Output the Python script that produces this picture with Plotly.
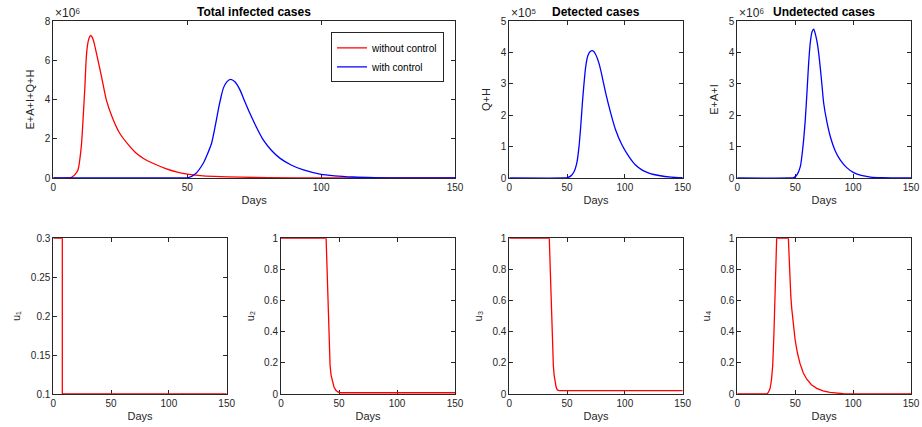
import plotly.graph_objects as go

# ---------------- data ----------------
# Total infected cases (E+A+I+Q+H), units of 1e6
total_without_days = [0, 5, 6.5, 7.5, 8.5, 9.2, 10.45, 11.1, 11.8, 12.3, 12.8, 13.4, 13.95, 14.6, 15.3, 16.1, 18,
                      19.8, 22, 24.8, 28, 31, 34, 37.2, 42, 46, 50, 55, 60, 70, 80, 100, 150]
total_without_vals = [0, 0, 0.02, 0.1, 0.25, 0.41, 1.6, 2.96, 4.66, 6.1, 6.8, 7.15, 7.26, 7.15, 6.85, 6.36, 5.17,
                      3.98, 3.1, 2.28, 1.7, 1.26, 0.97, 0.75, 0.48, 0.31, 0.2, 0.12, 0.08, 0.04, 0.02, 0.005, 0]
total_with_days = [0, 45, 50.4, 53, 56, 57.5, 59.1, 60.4, 61.6, 62.5, 63.5, 64.8, 66.2, 67.8, 69.7, 71.5, 73.4,
                   76, 78.4, 81.5, 84.7, 89, 93.4, 99.6, 105, 112, 120, 130, 150]
total_with_vals = [0, 0, 0.02, 0.2, 0.75, 1.2, 1.77, 2.6, 3.47, 4.05, 4.58, 4.9, 5.03, 4.9, 4.49, 3.9, 3.3,
                   2.55, 1.94, 1.4, 1.0, 0.65, 0.41, 0.2, 0.11, 0.05, 0.02, 0.005, 0]

# Detected cases (Q+H), units of 1e5
detected_days = [0, 48, 50.2, 53, 56, 58.5, 60.3, 61.8, 63.2, 64.6, 66.1, 68, 70, 72.4, 74.5, 77.6, 80.5, 83.4,
                 87.5, 92, 97.5, 103.5, 109, 115, 122, 129.5, 140, 150]
detected_vals = [0, 0, 0.01, 0.06, 0.2, 0.5, 1.0, 1.65, 2.38, 3.0, 3.55, 3.9, 4.03, 4.05, 3.95, 3.65, 3.2, 2.7,
                 2.1, 1.53, 1.05, 0.68, 0.42, 0.25, 0.14, 0.08, 0.03, 0.01]

# Undetected cases (E+A+I), units of 1e6
undetected_days = [0, 46, 48.7, 51.5, 54.4, 56.7, 58.7, 60.2, 61.6, 63, 64.5, 66, 67.3, 68.8, 70.3, 72.5, 74.6,
                   77.3, 80.3, 84.5, 89, 94.5, 100.5, 107, 115, 125, 150]
undetected_vals = [0, 0, 0.01, 0.1, 0.36, 1.0, 1.85, 2.75, 3.65, 4.3, 4.65, 4.74, 4.6, 4.35, 3.97, 3.2, 2.38,
                   1.8, 1.32, 0.87, 0.57, 0.33, 0.17, 0.08, 0.03, 0.01, 0]

# Controls
u1_days = [0, 7.8, 7.8, 150]
u1_vals = [0.3, 0.3, 0.1, 0.1]
u2_days = [0, 38.9, 39.4, 40.0, 40.4, 40.9, 41.6, 42.3, 43.2, 44.3, 45.7, 47.3, 49, 51, 60, 150]
u2_vals = [1, 1, 0.88, 0.72, 0.56, 0.40, 0.28, 0.185, 0.12, 0.077, 0.045, 0.024, 0.013, 0.008, 0.008, 0.008]
u3_days = [0, 34.6, 35.1, 35.8, 36.3, 36.9, 37.5, 38.1, 38.8, 39.5, 40.5, 41.5, 43, 150]
u3_vals = [1, 1, 0.88, 0.72, 0.56, 0.40, 0.28, 0.185, 0.12, 0.077, 0.045, 0.026, 0.022, 0.022]
u4_days = [0, 25.4, 26.8, 28.3, 29.5, 30.6, 31.6, 32.6, 33.3, 34.0, 44.1, 44.6, 45.1, 45.5, 46.2, 47, 48.4,
           49.9, 52, 54.2, 57, 60, 64, 68.6, 74, 80, 91.5, 100, 150]
u4_vals = [0, 0, 0.01, 0.035, 0.09, 0.185, 0.38, 0.61, 0.8, 1, 1, 0.9, 0.8, 0.72, 0.63, 0.55, 0.44,
           0.35, 0.26, 0.195, 0.135, 0.095, 0.06, 0.036, 0.02, 0.01, 0.002, 0, 0]

x_ticks = [0, 50, 100, 150]

# ---------------- layout helpers ----------------
W, H = 922, 427
def fx(px):
    return px / W
def fy(py):
    return 1 - py / H

cols = [(53.3, 226.7), (281, 455), (509.3, 682.7), (737.3, 911)]
top_row = (21, 178)
bot_row = (238.3, 394)

AX = "#262626"
FONT = "Liberation Sans, Arial, Helvetica, DejaVu Sans, sans-serif"
RED = "#ff0000"
BLUE = "#0000ff"

fig = go.Figure()

u_ticks = [0, 0.2, 0.4, 0.6, 0.8, 1]
u_text = ["0", "0.2", "0.4", "0.6", "0.8", "1"]
panels = [
    # (x px range, y px range, y range, y ticks, tick text, y title)
    ((cols[0][0], cols[1][1]), top_row, [0, 8], [0, 2, 4, 6, 8], None, "E+A+I+Q+H"),
    ((cols[2][0], cols[2][1]), top_row, [0, 5], [0, 1, 2, 3, 4, 5], None, "Q+H"),
    ((cols[3][0], cols[3][1]), top_row, [0, 5], [0, 1, 2, 3, 4, 5], None, "E+A+I"),
    ((cols[0][0], cols[0][1]), bot_row, [0.1, 0.3], [0.1, 0.15, 0.2, 0.25, 0.3],
     ["0.1", "0.15", "0.2", "0.25", "0.3"], "u₁"),
    ((cols[1][0], cols[1][1]), bot_row, [0, 1], u_ticks, u_text, "u₂"),
    ((cols[2][0], cols[2][1]), bot_row, [0, 1], u_ticks, u_text, "u₃"),
    ((cols[3][0], cols[3][1]), bot_row, [0, 1], u_ticks, u_text, "u₄"),
]

layout = dict(
    width=W, height=H, autosize=False,
    margin=dict(l=0, r=0, t=0, b=0, pad=0, autoexpand=False),
    paper_bgcolor="white", plot_bgcolor="white",
    font=dict(family=FONT, size=10, color=AX),
    showlegend=True,
)
common = dict(showline=True, linecolor=AX, linewidth=1, mirror="ticks", ticks="inside",
              ticklen=4, tickwidth=1, tickcolor=AX, showgrid=False, zeroline=False, automargin=False,
              tickfont=dict(family=FONT, size=10, color=AX), layer="below traces")

for i, (xr, yr, yrange, yt, ytt, ytitle) in enumerate(panels, start=1):
    sfx = "" if i == 1 else str(i)
    layout["xaxis" + sfx] = dict(domain=[fx(xr[0]), fx(xr[1])], range=[0, 150], tickvals=x_ticks,
                                 anchor="y" + sfx,
                                 title=dict(text="Days", font=dict(family=FONT, size=11, color=AX), standoff=4),
                                 **common)
    ya = dict(domain=[fy(yr[1]), fy(yr[0])], range=yrange, tickvals=yt, anchor="x" + sfx,
              title=dict(text=ytitle, font=dict(family=FONT, size=11, color=AX), standoff=7),
              **common)
    if ytt is not None:
        ya["ticktext"] = ytt
    layout["yaxis" + sfx] = ya

fig.update_layout(**layout)

LW = 1.3
fig.add_trace(go.Scatter(x=total_without_days, y=total_without_vals, mode="lines", name="without control",
                         line=dict(color=RED, width=LW, shape="spline", smoothing=0.6), xaxis="x", yaxis="y"))
fig.add_trace(go.Scatter(x=total_with_days, y=total_with_vals, mode="lines", name="with control",
                         line=dict(color=BLUE, width=LW, shape="spline", smoothing=0.6), xaxis="x", yaxis="y"))
fig.add_trace(go.Scatter(x=detected_days, y=detected_vals, mode="lines", showlegend=False,
                         line=dict(color=BLUE, width=LW, shape="spline", smoothing=0.6), xaxis="x2", yaxis="y2"))
fig.add_trace(go.Scatter(x=undetected_days, y=undetected_vals, mode="lines", showlegend=False,
                         line=dict(color=BLUE, width=LW, shape="spline", smoothing=0.6), xaxis="x3", yaxis="y3"))
for k, (dd, vv) in enumerate([(u1_days, u1_vals), (u2_days, u2_vals), (u3_days, u3_vals), (u4_days, u4_vals)], start=4):
    fig.add_trace(go.Scatter(x=dd, y=vv, mode="lines", showlegend=False,
                             line=dict(color=RED, width=LW), xaxis="x" + str(k), yaxis="y" + str(k)))

fig.update_layout(legend=dict(x=fx(444), y=fy(32.3), xanchor="right", yanchor="top",
                              bgcolor="white", bordercolor=AX, borderwidth=1,
                              font=dict(family=FONT, size=10, color="#000000"),
                              tracegroupgap=0, itemwidth=30))

ann = []
def text(x, y, s, size=11, bold=False, xanchor="center"):
    ann.append(dict(x=fx(x), y=fy(y), xref="paper", yref="paper", text=("<b>%s</b>" % s) if bold else s,
                    showarrow=False, xanchor=xanchor, yanchor="middle",
                    font=dict(family=FONT, size=size, color="#000000" if bold else AX)))

# titles
text(254, 12, "Total infected cases", size=12, bold=True)
text(596, 12, "Detected cases", size=12, bold=True)
text(824, 12, "Undetected cases", size=12, bold=True)
# exponents
text(53, 13, "×10⁶", size=12, xanchor="left")
text(509, 13, "×10⁵", size=12, xanchor="left")
text(737, 13, "×10⁶", size=12, xanchor="left")
fig.update_layout(annotations=ann)

fig.write_html("out.html", config={"displayModeBar": False},
               post_script="document.body.style.margin='0';document.body.style.overflow='hidden';")
